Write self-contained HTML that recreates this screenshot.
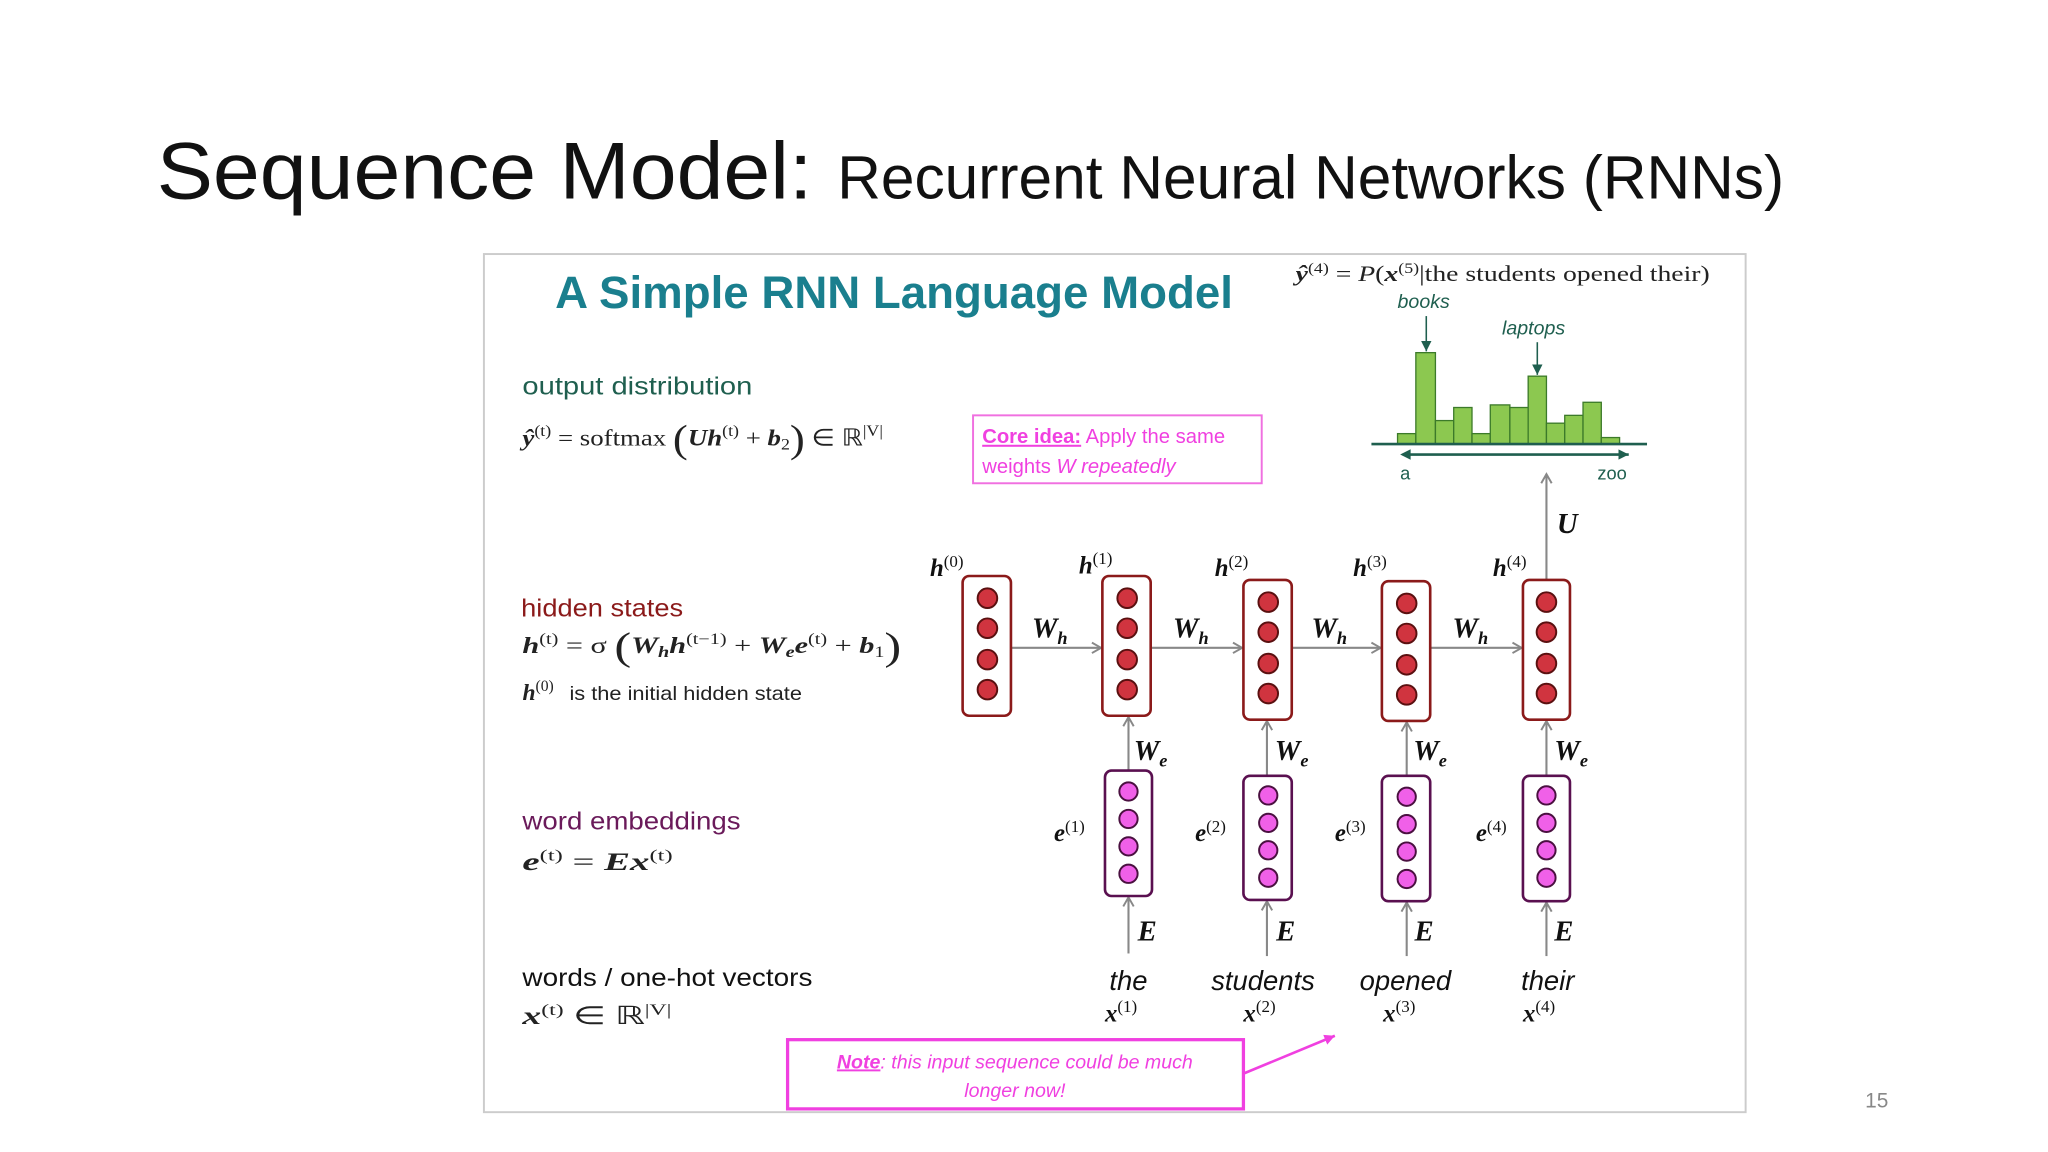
<!DOCTYPE html>
<html><head><meta charset="utf-8"><style>
html,body{margin:0;padding:0;background:#fff;}
svg{display:block;}
.m{font-family:"Liberation Serif",serif;font-style:italic;font-weight:bold;}
.r{font-family:"Liberation Serif",serif;}
.s{font-family:"Liberation Sans",sans-serif;}
</style></head><body>
<svg width="2048" height="1152" viewBox="0 0 1568 882" xmlns="http://www.w3.org/2000/svg">
<defs>
<marker id="ag" markerWidth="10" markerHeight="10" refX="8" refY="5" orient="auto" markerUnits="userSpaceOnUse"><path d="M1,1 L8,5 L1,9" fill="none" stroke="#888" stroke-width="1.5"/></marker>
<marker id="at" markerWidth="10" markerHeight="10" refX="8" refY="5" orient="auto" markerUnits="userSpaceOnUse"><path d="M0,1 L8,5 L0,9 Z" fill="#1f5f4f"/></marker>
<marker id="ap" markerWidth="10" markerHeight="10" refX="8" refY="5" orient="auto" markerUnits="userSpaceOnUse"><path d="M0,1 L8,5 L0,9 Z" fill="#f040e0"/></marker>
</defs>
<text x="120" y="152" class="s" font-size="62" fill="#111" textLength="502" lengthAdjust="spacingAndGlyphs">Sequence Model:</text>
<text x="641" y="152" class="s" font-size="47" fill="#111" textLength="725" lengthAdjust="spacingAndGlyphs">Recurrent Neural Networks (RNNs)</text>
<rect x="370.5" y="194.5" width="966" height="657" fill="#fff" stroke="#ccc" stroke-width="1.5"/>
<text x="425" y="236" class="s" font-size="35" font-weight="bold" fill="#1a7f8e" textLength="519" lengthAdjust="spacingAndGlyphs">A Simple RNN Language Model</text>
<text x="992" y="215" class="r" font-size="17" fill="#222" textLength="317" lengthAdjust="spacingAndGlyphs"><tspan font-style="italic" font-weight="bold">ŷ</tspan><tspan font-size="11" dy="-6">(4)</tspan><tspan dy="6"> = </tspan><tspan font-style="italic">P</tspan>(<tspan font-style="italic" font-weight="bold">x</tspan><tspan font-size="11" dy="-6">(5)</tspan><tspan dy="6">|the students opened their)</tspan></text>
<text x="1070" y="236" class="s" font-size="15" font-style="italic" fill="#1f5f4f">books</text>
<text x="1150" y="256" class="s" font-size="15" font-style="italic" fill="#1f5f4f">laptops</text>
<g fill="#8cc850" stroke="#3c7a2a" stroke-width="1">
<rect x="1070" y="332" width="14" height="8"/><rect x="1084" y="270" width="15" height="70"/><rect x="1099" y="322" width="14" height="18"/><rect x="1113" y="312" width="14" height="28"/><rect x="1127" y="332" width="14" height="8"/><rect x="1141" y="310" width="15" height="30"/><rect x="1156" y="312" width="14" height="28"/><rect x="1170" y="288" width="14" height="52"/><rect x="1184" y="324" width="14" height="16"/><rect x="1198" y="318" width="14" height="22"/><rect x="1212" y="308" width="14" height="32"/><rect x="1226" y="335" width="14" height="5"/>
</g>
<line x1="1050" y1="340" x2="1261" y2="340" stroke="#1f5f4f" stroke-width="2"/>
<line x1="1092" y1="242" x2="1092" y2="269" stroke="#1f5f4f" stroke-width="1.2" marker-end="url(#at)"/>
<line x1="1177" y1="262" x2="1177" y2="287" stroke="#1f5f4f" stroke-width="1.2" marker-end="url(#at)"/>
<line x1="1074" y1="348" x2="1247" y2="348" stroke="#1f5f4f" stroke-width="2" marker-end="url(#at)"/>
<path d="M1080,344 L1072,348 L1080,352 Z" fill="#1f5f4f"/>
<text x="1072" y="367" class="s" font-size="14" fill="#1f5f4f">a</text>
<text x="1223" y="367" class="s" font-size="14" fill="#1f5f4f">zoo</text>
<rect x="745" y="318" width="221" height="52" fill="none" stroke="#f070e0" stroke-width="1.5"/>
<text x="752" y="339" class="s" font-size="15.5" fill="#f040e0"><tspan font-weight="bold" text-decoration="underline">Core idea:</tspan> Apply the same</text>
<text x="752" y="362" class="s" font-size="15.5" fill="#f040e0">weights <tspan font-style="italic">W repeatedly</tspan></text>
<text x="400" y="302" class="s" font-size="19" fill="#1f5f4f" textLength="176" lengthAdjust="spacingAndGlyphs">output distribution</text>
<text x="400" y="341" class="r" font-size="18" fill="#222" textLength="276" lengthAdjust="spacingAndGlyphs"><tspan font-style="italic" font-weight="bold">ŷ</tspan><tspan font-size="12" dy="-7">(t)</tspan><tspan dy="7"> = softmax </tspan><tspan font-size="30" dy="5">(</tspan><tspan dy="-5" class="m">Uh</tspan><tspan font-size="12" dy="-7">(t)</tspan><tspan dy="7"> + </tspan><tspan class="m">b</tspan><tspan font-size="12" dy="3">2</tspan><tspan font-size="30" dy="2">)</tspan><tspan dy="-5"> ∈ ℝ</tspan><tspan font-size="12" dy="-7">|V|</tspan></text>
<text x="399" y="472" class="s" font-size="19" fill="#8b1a1a" textLength="124" lengthAdjust="spacingAndGlyphs">hidden states</text>
<text x="400" y="500" class="r" font-size="18" fill="#222" textLength="290" lengthAdjust="spacingAndGlyphs"><tspan class="m">h</tspan><tspan font-size="12" dy="-7">(t)</tspan><tspan dy="7"> = σ </tspan><tspan font-size="30" dy="5">(</tspan><tspan dy="-5" class="m">W</tspan><tspan font-size="12" dy="3" class="m">h</tspan><tspan dy="-3" class="m">h</tspan><tspan font-size="12" dy="-7">(t−1)</tspan><tspan dy="7"> + </tspan><tspan class="m">W</tspan><tspan font-size="12" dy="3" class="m">e</tspan><tspan dy="-3" class="m">e</tspan><tspan font-size="12" dy="-7">(t)</tspan><tspan dy="7"> + </tspan><tspan class="m">b</tspan><tspan font-size="12" dy="3">1</tspan><tspan font-size="30" dy="2">)</tspan></text>
<text x="400" y="536" class="r" font-size="18" fill="#222"><tspan class="m">h</tspan><tspan font-size="12" dy="-7">(0)</tspan></text>
<text x="436" y="536" class="s" font-size="15" fill="#222" textLength="178" lengthAdjust="spacingAndGlyphs">is the initial hidden state</text>
<text x="400" y="635" class="s" font-size="19" fill="#6a1a5a" textLength="167" lengthAdjust="spacingAndGlyphs">word embeddings</text>
<text x="400" y="666" class="r" font-size="19" fill="#222" textLength="115" lengthAdjust="spacingAndGlyphs"><tspan class="m">e</tspan><tspan font-size="12" dy="-7">(t)</tspan><tspan dy="7"> = </tspan><tspan class="m">Ex</tspan><tspan font-size="12" dy="-7">(t)</tspan></text>
<text x="400" y="755" class="s" font-size="19" fill="#111" textLength="222" lengthAdjust="spacingAndGlyphs">words / one-hot vectors</text>
<text x="400" y="784" class="r" font-size="19" fill="#222" textLength="114" lengthAdjust="spacingAndGlyphs"><tspan class="m">x</tspan><tspan font-size="12" dy="-7">(t)</tspan><tspan dy="7"> ∈ ℝ</tspan><tspan font-size="12" dy="-7">|V|</tspan></text>
<g stroke="#888" stroke-width="1.6" fill="none">
<line x1="774" y1="496" x2="843" y2="496" marker-end="url(#ag)"/>
<line x1="881" y1="496" x2="951" y2="496" marker-end="url(#ag)"/>
<line x1="989" y1="496" x2="1057" y2="496" marker-end="url(#ag)"/>
<line x1="1095" y1="496" x2="1165" y2="496" marker-end="url(#ag)"/>
<line x1="1184" y1="444" x2="1184" y2="363" marker-end="url(#ag)"/>
<line x1="864" y1="590" x2="864" y2="549" marker-end="url(#ag)"/>
<line x1="970" y1="594" x2="970" y2="552" marker-end="url(#ag)"/>
<line x1="1077" y1="594" x2="1077" y2="553" marker-end="url(#ag)"/>
<line x1="1184" y1="594" x2="1184" y2="552" marker-end="url(#ag)"/>
<line x1="864" y1="730" x2="864" y2="687" marker-end="url(#ag)"/>
<line x1="970" y1="732" x2="970" y2="690" marker-end="url(#ag)"/>
<line x1="1077" y1="732" x2="1077" y2="691" marker-end="url(#ag)"/>
<line x1="1184" y1="732" x2="1184" y2="691" marker-end="url(#ag)"/>
</g>
<g class="m" font-size="22" fill="#111">
<text x="790" y="488">W<tspan font-size="14" dy="5">h</tspan></text>
<text x="898" y="488">W<tspan font-size="14" dy="5">h</tspan></text>
<text x="1004" y="488">W<tspan font-size="14" dy="5">h</tspan></text>
<text x="1112" y="488">W<tspan font-size="14" dy="5">h</tspan></text>
<text x="1192" y="408">U</text>
<text x="868" y="582">W<tspan font-size="14" dy="5">e</tspan></text>
<text x="976" y="582">W<tspan font-size="14" dy="5">e</tspan></text>
<text x="1082" y="582">W<tspan font-size="14" dy="5">e</tspan></text>
<text x="1190" y="582">W<tspan font-size="14" dy="5">e</tspan></text>
<text x="871" y="720">E</text><text x="977" y="720">E</text><text x="1083" y="720">E</text><text x="1190" y="720">E</text>
</g>
<g class="r" font-size="19" fill="#111">
<text x="712" y="441"><tspan class="m">h</tspan><tspan font-size="13" dy="-7">(0)</tspan></text>
<text x="826" y="439"><tspan class="m">h</tspan><tspan font-size="13" dy="-7">(1)</tspan></text>
<text x="930" y="441"><tspan class="m">h</tspan><tspan font-size="13" dy="-7">(2)</tspan></text>
<text x="1036" y="441"><tspan class="m">h</tspan><tspan font-size="13" dy="-7">(3)</tspan></text>
<text x="1143" y="441"><tspan class="m">h</tspan><tspan font-size="13" dy="-7">(4)</tspan></text>
<text x="807" y="644"><tspan class="m">e</tspan><tspan font-size="13" dy="-7">(1)</tspan></text>
<text x="915" y="644"><tspan class="m">e</tspan><tspan font-size="13" dy="-7">(2)</tspan></text>
<text x="1022" y="644"><tspan class="m">e</tspan><tspan font-size="13" dy="-7">(3)</tspan></text>
<text x="1130" y="644"><tspan class="m">e</tspan><tspan font-size="13" dy="-7">(4)</tspan></text>
<text x="846" y="782"><tspan class="m">x</tspan><tspan font-size="13" dy="-7">(1)</tspan></text>
<text x="952" y="782"><tspan class="m">x</tspan><tspan font-size="13" dy="-7">(2)</tspan></text>
<text x="1059" y="782"><tspan class="m">x</tspan><tspan font-size="13" dy="-7">(3)</tspan></text>
<text x="1166" y="782"><tspan class="m">x</tspan><tspan font-size="13" dy="-7">(4)</tspan></text>
</g>
<g class="s" font-size="21" font-style="italic" fill="#111" text-anchor="middle">
<text x="864" y="758">the</text><text x="967" y="758">students</text><text x="1076" y="758">opened</text><text x="1185" y="758">their</text>
</g>
<g stroke="#8b1a1a" stroke-width="2" fill="#fff">
<rect x="737" y="441" width="37" height="107" rx="5"/>
<rect x="844" y="441" width="37" height="107" rx="5"/>
<rect x="952" y="444" width="37" height="107" rx="5"/>
<rect x="1058" y="445" width="37" height="107" rx="5"/>
<rect x="1166" y="444" width="36" height="107" rx="5"/>
</g>
<g fill="#d0343f" stroke="#5a1010" stroke-width="1.5">
<circle cx="756" cy="458" r="7.5"/><circle cx="756" cy="481" r="7.5"/><circle cx="756" cy="505" r="7.5"/><circle cx="756" cy="528" r="7.5"/>
<circle cx="863" cy="458" r="7.5"/><circle cx="863" cy="481" r="7.5"/><circle cx="863" cy="505" r="7.5"/><circle cx="863" cy="528" r="7.5"/>
<circle cx="971" cy="461" r="7.5"/><circle cx="971" cy="484" r="7.5"/><circle cx="971" cy="508" r="7.5"/><circle cx="971" cy="531" r="7.5"/>
<circle cx="1077" cy="462" r="7.5"/><circle cx="1077" cy="485" r="7.5"/><circle cx="1077" cy="509" r="7.5"/><circle cx="1077" cy="532" r="7.5"/>
<circle cx="1184" cy="461" r="7.5"/><circle cx="1184" cy="484" r="7.5"/><circle cx="1184" cy="508" r="7.5"/><circle cx="1184" cy="531" r="7.5"/>
</g>
<g stroke="#5a1050" stroke-width="2" fill="#fff">
<rect x="846" y="590" width="36" height="96" rx="5"/>
<rect x="952" y="594" width="37" height="95" rx="5"/>
<rect x="1058" y="594" width="37" height="96" rx="5"/>
<rect x="1166" y="594" width="36" height="96" rx="5"/>
</g>
<g fill="#f060e8" stroke="#4a1040" stroke-width="1.5">
<circle cx="864" cy="606" r="7"/><circle cx="864" cy="627" r="7"/><circle cx="864" cy="648" r="7"/><circle cx="864" cy="669" r="7"/>
<circle cx="971" cy="609" r="7"/><circle cx="971" cy="630" r="7"/><circle cx="971" cy="651" r="7"/><circle cx="971" cy="672" r="7"/>
<circle cx="1077" cy="610" r="7"/><circle cx="1077" cy="631" r="7"/><circle cx="1077" cy="652" r="7"/><circle cx="1077" cy="673" r="7"/>
<circle cx="1184" cy="609" r="7"/><circle cx="1184" cy="630" r="7"/><circle cx="1184" cy="651" r="7"/><circle cx="1184" cy="672" r="7"/>
</g>
<rect x="603" y="796" width="349" height="53" fill="#fff" stroke="#f040e0" stroke-width="2.5"/>
<line x1="952" y1="822" x2="1022" y2="793" stroke="#f040e0" stroke-width="2" marker-end="url(#ap)"/>
<g class="s" font-size="15" font-style="italic" fill="#f040e0" text-anchor="middle">
<text x="777" y="818"><tspan font-weight="bold" text-decoration="underline">Note</tspan>: this input sequence could be much</text>
<text x="777" y="840">longer now!</text>
</g>
<text x="1428" y="848" class="s" font-size="16" fill="#888">15</text>
</svg>
</body></html>
